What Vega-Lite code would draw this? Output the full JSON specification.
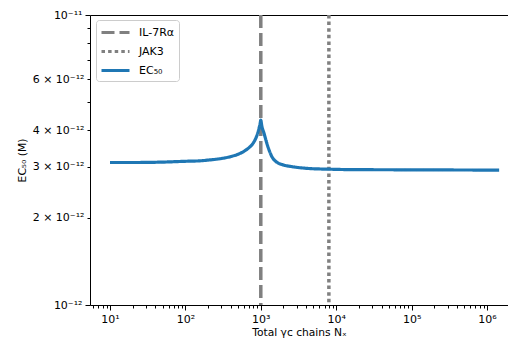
{
  "$schema": "https://vega.github.io/schema/vega-lite/v6.json",
  "width": 418,
  "height": 290,
  "autosize": {"type": "none"},
  "padding": {"left": 90, "top": 15, "right": 0, "bottom": 42},
  "config": {
    "view": {"stroke": null},
    "font": "DejaVu Sans",
    "axis": {
      "domainColor": "#000000",
      "domainWidth": 1,
      "tickColor": "#000000",
      "labelColor": "#000000",
      "titleColor": "#000000",
      "grid": false,
      "labelFont": "DejaVu Sans",
      "titleFont": "DejaVu Sans",
      "labelFontSize": 11,
      "titleFontSize": 10.7,
      "titleFontWeight": "normal",
      "labelOverlap": false,
      "labelFlush": false
    },
    "legend": {
      "symbolType": "M-1,0H3",
      "symbolSize": 196,
      "symbolStrokeWidth": 3,
      "labelFont": "DejaVu Sans",
      "labelFontSize": 11,
      "labelColor": "#000000",
      "labelOffset": 22,
      "padding": 4,
      "strokeColor": "#cccccc",
      "fillColor": "#ffffff",
      "cornerRadius": 3,
      "rowPadding": 4
    }
  },
  "datasets": {
    "vlines": [
      {"series": "IL-7Rα", "x": 1000},
      {"series": "JAK3", "x": 8000}
    ],
    "curve": [
      {"series": "EC₅₀", "x": 10, "y": 3.10e-12},
      {"series": "EC₅₀", "x": 20, "y": 3.10e-12},
      {"series": "EC₅₀", "x": 50, "y": 3.11e-12},
      {"series": "EC₅₀", "x": 100, "y": 3.13e-12},
      {"series": "EC₅₀", "x": 150, "y": 3.14e-12},
      {"series": "EC₅₀", "x": 200, "y": 3.16e-12},
      {"series": "EC₅₀", "x": 300, "y": 3.20e-12},
      {"series": "EC₅₀", "x": 400, "y": 3.25e-12},
      {"series": "EC₅₀", "x": 500, "y": 3.31e-12},
      {"series": "EC₅₀", "x": 600, "y": 3.39e-12},
      {"series": "EC₅₀", "x": 700, "y": 3.49e-12},
      {"series": "EC₅₀", "x": 800, "y": 3.63e-12},
      {"series": "EC₅₀", "x": 900, "y": 3.88e-12},
      {"series": "EC₅₀", "x": 950, "y": 4.08e-12},
      {"series": "EC₅₀", "x": 980, "y": 4.22e-12},
      {"series": "EC₅₀", "x": 1000, "y": 4.34e-12},
      {"series": "EC₅₀", "x": 1030, "y": 4.15e-12},
      {"series": "EC₅₀", "x": 1100, "y": 3.92e-12},
      {"series": "EC₅₀", "x": 1200, "y": 3.62e-12},
      {"series": "EC₅₀", "x": 1300, "y": 3.40e-12},
      {"series": "EC₅₀", "x": 1400, "y": 3.25e-12},
      {"series": "EC₅₀", "x": 1600, "y": 3.12e-12},
      {"series": "EC₅₀", "x": 2000, "y": 3.04e-12},
      {"series": "EC₅₀", "x": 2600, "y": 3.00e-12},
      {"series": "EC₅₀", "x": 3500, "y": 2.97e-12},
      {"series": "EC₅₀", "x": 5000, "y": 2.95e-12},
      {"series": "EC₅₀", "x": 8000, "y": 2.94e-12},
      {"series": "EC₅₀", "x": 15000, "y": 2.93e-12},
      {"series": "EC₅₀", "x": 100000, "y": 2.925e-12},
      {"series": "EC₅₀", "x": 1000000, "y": 2.92e-12},
      {"series": "EC₅₀", "x": 1450000, "y": 2.92e-12}
    ]
  },
  "layer": [
    {
      "data": {"name": "vlines"},
      "mark": {"type": "rule", "strokeWidth": 3.5},
      "encoding": {
        "x": {
          "field": "x",
          "type": "quantitative",
          "scale": {"type": "log", "domain": [5.43, 1.9e6], "nice": false},
          "axis": {
            "title": "Total γc chains Nₓ",
            "values": [6,7,8,9,10,20,30,40,50,60,70,80,90,100,200,300,400,500,600,700,800,900,1000,2000,3000,4000,5000,6000,7000,8000,9000,10000,20000,30000,40000,50000,60000,70000,80000,90000,100000,200000,300000,400000,500000,600000,700000,800000,900000,1000000],
            "labelExpr": "datum.value == 10 ? '10¹' : datum.value == 100 ? '10²' : datum.value == 1000 ? '10³' : datum.value == 10000 ? '10⁴' : datum.value == 100000 ? '10⁵' : datum.value == 1000000 ? '10⁶' : ''",
            "tickSize": {"condition": {"test": "indexof([10,100,1000,10000,100000,1000000], datum.value) >= 0", "value": 5}, "value": 3},
            "labelPadding": 3,
            "titlePadding": 3
          }
        },
        "color": {
          "field": "series",
          "type": "nominal",
          "scale": {"domain": ["IL-7Rα", "JAK3", "EC₅₀"], "range": ["#808080", "#808080", "#1f77b4"]},
          "legend": {"title": null, "orient": "none", "legendX": 6, "legendY": 5}
        },
        "strokeDash": {
          "field": "series",
          "type": "nominal",
          "scale": {"domain": ["IL-7Rα", "JAK3", "EC₅₀"], "range": [[13, 5], [3.5, 3.1], [1, 0]]},
          "legend": {"title": null, "orient": "none", "legendX": 6, "legendY": 5}
        }
      }
    },
    {
      "data": {"name": "curve"},
      "mark": {"type": "line", "strokeWidth": 3.2, "interpolate": "monotone"},
      "encoding": {
        "x": {"field": "x", "type": "quantitative", "axis": null},
        "y": {
          "field": "y",
          "type": "quantitative",
          "scale": {"type": "log", "domain": [1e-12, 1e-11], "nice": false},
          "axis": {
            "title": "EC₅₀ (M)",
            "values": [1e-12, 2e-12, 3e-12, 4e-12, 5e-12, 6e-12, 7e-12, 8e-12, 9e-12, 1e-11],
            "labelExpr": "datum.value < 1.5e-12 ? '10⁻¹²' : datum.value < 2.5e-12 ? '2 × 10⁻¹²' : datum.value < 3.5e-12 ? '3 × 10⁻¹²' : datum.value < 4.5e-12 ? '4 × 10⁻¹²' : (datum.value > 5.5e-12 && datum.value < 6.5e-12) ? '6 × 10⁻¹²' : datum.value > 9.5e-12 ? '10⁻¹¹' : ''",
            "tickSize": {"condition": {"test": "datum.value < 1.5e-12 || datum.value > 9.5e-12", "value": 5}, "value": 3},
            "labelPadding": 3,
            "titlePadding": 5
          }
        },
        "color": {"field": "series", "type": "nominal"},
        "strokeDash": {"field": "series", "type": "nominal"}
      }
    },
    {
      "data": {"name": "vlines"},
      "mark": {"type": "rule", "opacity": 0},
      "encoding": {
        "x": {
          "field": "x",
          "type": "quantitative",
          "axis": {"orient": "top", "labels": false, "ticks": false, "title": null, "domainColor": "#000000"}
        }
      }
    }
  ],
  "resolve": {"axis": {"x": "independent"}}
}
